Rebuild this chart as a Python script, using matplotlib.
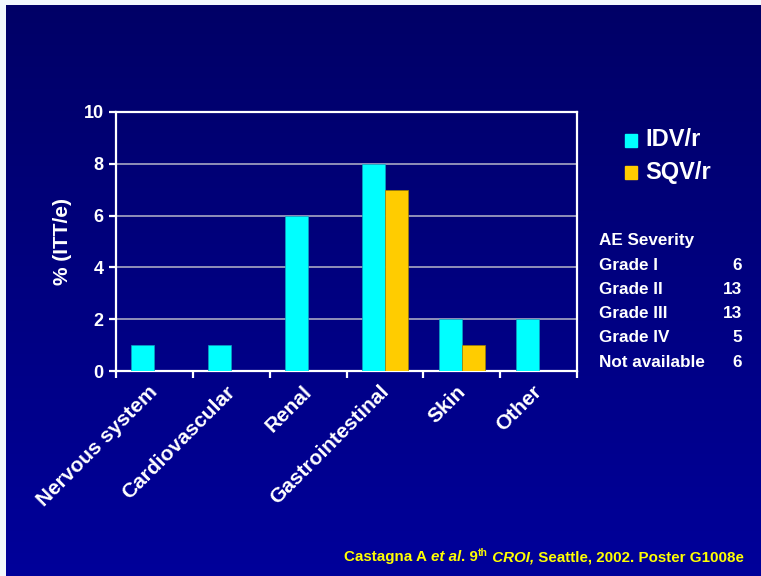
import numpy as np
import matplotlib.pyplot as plt

plt.rcParams["font.family"] = ["Liberation Sans", "DejaVu Sans"]
plt.rcParams["font.weight"] = "bold"

categories = ["Nervous system", "Cardiovascular", "Renal",
              "Gastrointestinal", "Skin", "Other"]
idv_r = [1, 1, 6, 8, 2, 2]
sqv_r = [0, 0, 0, 7, 1, 0]

severity_labels = ["Grade I", "Grade II", "Grade III", "Grade IV", "Not available"]
severity_counts = [6, 13, 13, 5, 6]

CYAN = "#00FFFF"
GOLD = "#FFCC00"

W, H = 761, 576
fig = plt.figure(figsize=(W / 100, H / 100), dpi=100, facecolor="#000099")

# slide background: vertical blue gradient, thin pale margin on top and left
top = np.array([0x00, 0x00, 0x66]) / 255
bottom = np.array([0x00, 0x00, 0x9A]) / 255
t = np.linspace(0, 1, H)[:, None, None]
img = np.broadcast_to(top + (bottom - top) * t, (H, W, 3)).copy()
img[:5, :] = np.array([0xF2, 0xF8, 0xFC]) / 255
img[:, :6] = np.array([0xF2, 0xF8, 0xFC]) / 255
fig.figimage(img, 0, 0, origin="upper", zorder=-10)

ax = fig.add_axes([116 / W, 1 - 371 / H, (577 - 116) / W, (371 - 112) / H])
ax.patch.set_alpha(0)

x = np.arange(len(categories))
w = 0.3
ax.bar(x - w / 2, idv_r, w, color=CYAN, edgecolor="#10A0C0", linewidth=0.5, zorder=3)
ax.bar(x + w / 2, sqv_r, w, color=GOLD, edgecolor="#A08000", linewidth=0.5, zorder=3)

ax.set_xlim(-0.5, len(categories) - 0.5)
ax.set_ylim(0, 10)
ax.set_yticks(range(0, 11, 2))
ax.yaxis.grid(True, color="#9A9ABE", linewidth=1.3, zorder=1)
ax.set_axisbelow(True)

for s in ax.spines.values():
    s.set_color("white")
    s.set_linewidth(1.6)

# ticks sit between categories, labels under the bar pairs (nudged left a bit)
ax.set_xticks(np.arange(len(categories) + 1) - 0.5)
ax.set_xticklabels([])
ax.set_xticks(x - 0.08, minor=True)
ax.set_xticklabels(categories, minor=True, rotation=45, ha="right",
                   rotation_mode="anchor", fontsize=15, color="white", fontweight="bold")
ax.tick_params(axis="x", which="major", direction="out", length=5, width=1.6, color="white")
ax.tick_params(axis="x", which="minor", length=0, pad=8)
ax.tick_params(axis="y", direction="out", length=5, width=1.6, color="white",
               labelcolor="white", labelsize=13, pad=4)
for lab in ax.get_yticklabels():
    lab.set_fontweight("bold")

ax.set_ylabel("% (ITT/e)", color="white", fontsize=15, fontweight="bold", labelpad=8)

# legend drawn as squares + text
fig.patches.append(plt.Rectangle((625 / W, 1 - 147 / H), 12 / W, 13 / H,
                                 transform=fig.transFigure, color=CYAN))
fig.patches.append(plt.Rectangle((625 / W, 1 - 179 / H), 12 / W, 13 / H,
                                 transform=fig.transFigure, color=GOLD))
fig.text(645 / W, 1 - 140 / H, "IDV/r", color="white", fontsize=17,
         fontweight="bold", va="center")
fig.text(645 / W, 1 - 172 / H, "SQV/r", color="white", fontsize=17,
         fontweight="bold", va="center")

# severity table
fig.text(599 / W, 1 - 240 / H, "AE Severity", color="white", fontsize=12.3,
         fontweight="bold", va="center")
for i, (lab, n) in enumerate(zip(severity_labels, severity_counts)):
    yy = 1 - (265 + i * 24.3) / H
    fig.text(599 / W, yy, lab, color="white", fontsize=12.3, fontweight="bold", va="center")
    fig.text(742 / W, yy, str(n), color="white", fontsize=12.3, fontweight="bold",
             va="center", ha="right")

# citation line, built from pieces so the italic/superscript parts line up
pieces = [
    ("Castagna A ", "normal", 10.9, 0),
    ("et al", "italic", 10.9, 0),
    (". 9", "normal", 10.9, 0),
    ("th", "normal", 7.5, 5),
    (" CROI,", "italic", 10.9, 0),
    (" Seattle, 2002. Poster G1008e", "normal", 10.9, 0),
]
fig.canvas.draw()
renderer = fig.canvas.get_renderer()
cx = 344
base_y = 561
for txt, style, size, rise in pieces:
    tt = fig.text(cx / W, 1 - (base_y - rise) / H, txt, color="#FFFF00", fontsize=size,
                  fontweight="bold", fontstyle=style, va="baseline")
    cx += tt.get_window_extent(renderer=renderer).width

fig.savefig("out.png", dpi=100, facecolor=fig.get_facecolor())
